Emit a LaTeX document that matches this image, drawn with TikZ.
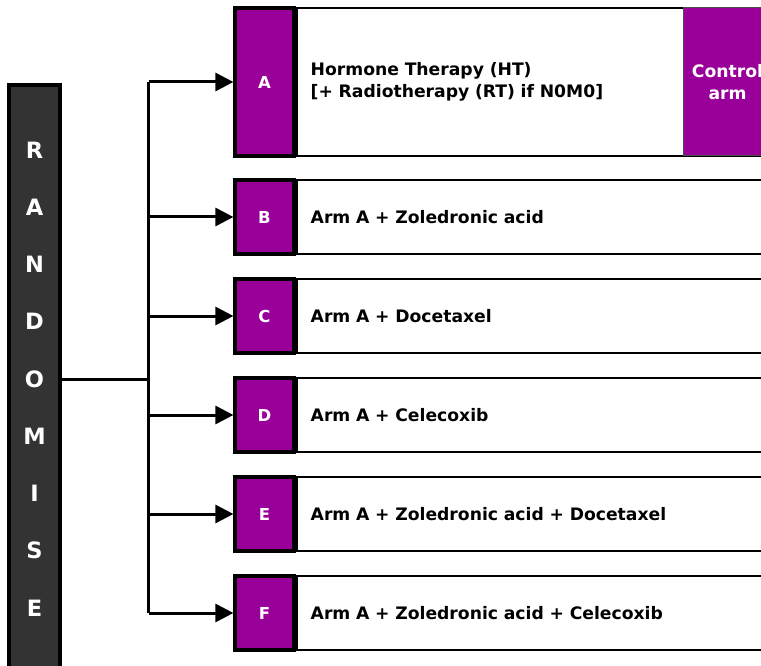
\documentclass[tikz,border=0pt]{standalone}
\usepackage{fontspec}
\setmainfont{DejaVu Sans}
\usetikzlibrary{arrows.meta,positioning}
\definecolor{armpurple}{HTML}{990099}
\definecolor{bargrey}{HTML}{333333}

\begin{document}
\begin{tikzpicture}[x=1pt,y=-1pt,
  letterbox/.style={draw=black,line width=3.2pt,fill=armpurple,text=white,
    font=\bfseries\fontsize{16.5}{18}\selectfont,minimum width=59pt,inner sep=0pt},
  armbox/.style={draw=black,line width=2.2pt,fill=white,anchor=west,
    minimum width=490pt,inner xsep=14pt,text width=462pt,align=left,
    font=\bfseries\fontsize{17.2}{22.5}\selectfont},
  ctrlbox/.style={draw=black!70,line width=1pt,fill=armpurple,text=white,anchor=west,
    minimum width=88pt,minimum height=148pt,align=center,inner sep=0pt,
    font=\bfseries\fontsize{17.2}{22.5}\selectfont},
  branch/.style={line width=3pt,-{Triangle[length=18pt,width=18pt]}}]

\useasboundingbox (0,0) rectangle (761,666);
\clip (0,0) rectangle (761,666);

% randomise bar
\node[draw=black,line width=3.2pt,fill=bargrey,text=white,minimum width=51pt,
  minimum height=588pt,inner sep=0pt,align=center,
  font=\bfseries\fontsize{22.5}{57.25}\selectfont] (rand) at (34.5,379)
  {R\\A\\N\\D\\O\\M\\I\\S\\E};

% arm A with control box
\node[letterbox,minimum height=148pt] (aA) at (264.5,82) {A};
\node[armbox,minimum height=148pt] (armA) at (aA.east)
  {Hormone Therapy (HT)\\{[}+ Radiotherapy (RT) if N0M0{]}};
\node[ctrlbox] (ctrl) at (683,82) {Control\\arm};

% research arms
\foreach \l/\t [count=\i] in {B/Arm A + Zoledronic acid,
  C/Arm A + Docetaxel,
  D/Arm A + Celecoxib,
  E/Arm A + Zoledronic acid + Docetaxel,
  F/Arm A + Zoledronic acid + Celecoxib}{
  \node[letterbox,minimum height=74pt] (a\l) at (264.5,118+99*\i) {\l};
  \node[armbox,minimum height=74pt] (arm\l) at (a\l.east) {\t};
}

% connectors
\coordinate[right=87pt of rand.east] (split);
\draw[line width=3pt] (rand.east) -- (split);
\draw[line width=3pt] (split |- aA.west) -- (split |- aF.west);
\foreach \l in {A,B,C,D,E,F}
  \draw[branch] (split |- a\l.west) -- (a\l.west);
\end{tikzpicture}
\end{document}
